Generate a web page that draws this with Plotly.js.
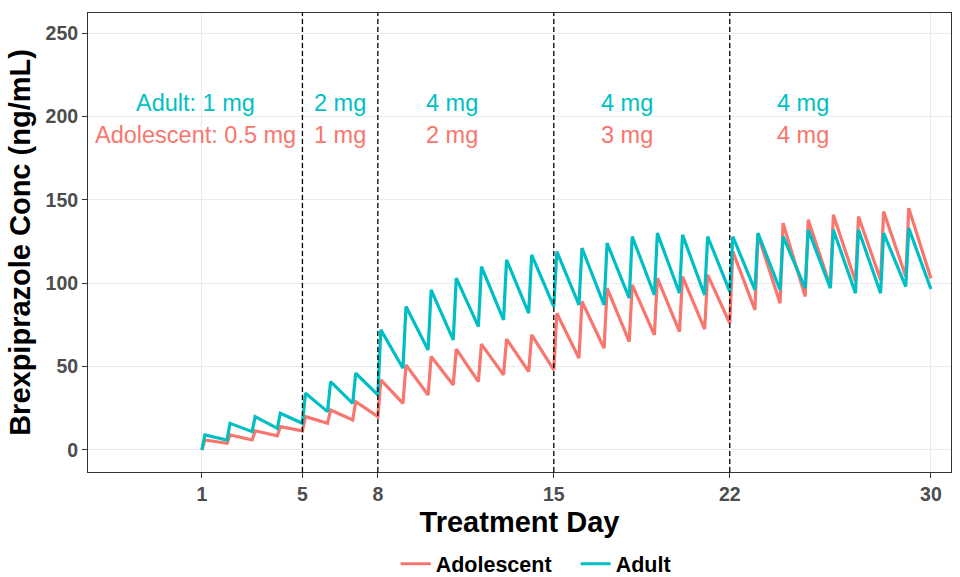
<!DOCTYPE html>
<html>
<head>
<meta charset="utf-8">
<script src="https://cdn.plot.ly/plotly-3.0.1.min.js"></script>
<style>html,body{margin:0;padding:0;background:#fff;}#chart{width:960px;height:577px;}</style>
</head>
<body>
<div id="chart"></div>
<script>
// Dose days (one dose per day) and day at the end of the profile
const doseDays = [1,2,3,4,5,6,7,8,9,10,11,12,13,14,15,16,17,18,19,20,21,22,23,24,25,26,27,28,29];
const endDay = 30;
const peakOffset = 0.12; // time after dose at which peak is reached (days)

// Concentrations (ng/mL)
// troughs: value at each dose time (day 1..29) plus at end (day 30)
const adultTrough = [0, 6, 11, 13, 16, 23, 28, 33, 49, 60, 66, 74, 78, 82, 86, 87, 87, 91, 93, 94, 93, 95, 96, 96, 97, 97, 94, 94, 98, 96.5];
const adultPeak   = [9, 16, 20, 22, 34, 41, 46, 72, 86, 96, 103, 110, 114, 117, 119, 121, 124, 128, 130, 129, 128, 128, 130, 128, 132, 132, 132, 130, 133];
const adolTrough  = [0, 4, 6, 8.5, 11.5, 16, 18, 20, 28, 33, 39, 41, 45, 47, 48, 55, 61, 65, 69, 71, 72.5, 76, 84, 88, 92, 98, 101, 102, 104, 103];
const adolPeak    = [6, 9, 11.5, 14, 20, 24, 29, 42, 51, 56, 60.5, 63.5, 66.5, 69, 82, 89, 97, 99, 103, 104, 105, 119, 129, 136, 138, 141, 140, 143, 145];

// Axis ticks and period boundaries
const xTicks = [1, 5, 8, 15, 22, 30];
const yTicks = [0, 50, 100, 150, 200, 250];
const periodStarts = [5, 8, 15, 22];

// Dose labels
const labelDays = [0.76, 6.5, 10.95, 17.9, 24.9];
const adultLabels = ["Adult: 1 mg", "2 mg", "4 mg", "4 mg", "4 mg"];
const adolLabels  = ["Adolescent: 0.5 mg", "1 mg", "2 mg", "3 mg", "4 mg"];
const adultLabelY = 208;
const adolLabelY = 189;

const colAdol = "#F8766D";
const colAdult = "#00BFC4";

function profile(trough, peak) {
  const x = [], y = [];
  doseDays.forEach((d, i) => {
    x.push(d); y.push(trough[i]);
    x.push(d + peakOffset); y.push(peak[i]);
  });
  x.push(endDay); y.push(trough[trough.length - 1]);
  return {x, y};
}

const pAdol = profile(adolTrough, adolPeak);
const pAdult = profile(adultTrough, adultPeak);

const FONT = "Liberation Sans, Arial, Helvetica, sans-serif";

const traces = [
  {x: pAdol.x, y: pAdol.y, type: "scatter", mode: "lines", name: "Adolescent",
   line: {color: colAdol, width: 3.2}, hoverinfo: "skip"},
  {x: pAdult.x, y: pAdult.y, type: "scatter", mode: "lines", name: "Adult",
   line: {color: colAdult, width: 3.2}, hoverinfo: "skip"}
];

const shapes = periodStarts.map(d => ({
  type: "line", xref: "x", yref: "paper", x0: d, x1: d, y0: 0, y1: 1,
  line: {color: "#000", width: 1.3, dash: "5px,3px"}
}));

const annotations = [];
labelDays.forEach((d, i) => {
  annotations.push({x: d, y: adultLabelY, xref: "x", yref: "y", text: adultLabels[i],
    showarrow: false, xanchor: "center", yanchor: "middle",
    font: {family: FONT, size: 23.5, color: colAdult}});
  annotations.push({x: d, y: adolLabelY, xref: "x", yref: "y", text: adolLabels[i],
    showarrow: false, xanchor: "center", yanchor: "middle",
    font: {family: FONT, size: 23.5, color: colAdol}});
});

const layout = {
  width: 960, height: 577,
  margin: {l: 88, r: 9, t: 13, b: 105, autoexpand: false},
  paper_bgcolor: "#fff", plot_bgcolor: "#fff",
  font: {family: FONT},
  showlegend: true,
  legend: {orientation: "h", x: 0.3565, xanchor: "left", y: -0.2, yanchor: "middle",
    font: {family: FONT, size: 21.5, color: "#000", weight: "bold"},
    itemwidth: 30, entrywidth: 135, entrywidthmode: "pixels",
    tracegroupgap: 0, bgcolor: "rgba(0,0,0,0)"},
  xaxis: {
    range: [-3.53, 30.8], tickmode: "array", tickvals: xTicks, ticktext: xTicks.map(String),
    showgrid: true, gridcolor: "#EBEBEB", gridwidth: 1, zeroline: false,
    showline: true, mirror: true, linecolor: "#333333", linewidth: 1,
    ticks: "outside", ticklen: 5, tickcolor: "#333333", automargin: false,
    tickfont: {family: FONT, size: 19.5, color: "#4D4D4D", weight: "bold"},
    title: {text: "Treatment Day", font: {family: FONT, size: 29, color: "#000", weight: "bold"}, standoff: 7}
  },
  yaxis: {
    range: [-13.2, 262], tickmode: "array", tickvals: yTicks, ticktext: yTicks.map(String),
    showgrid: true, gridcolor: "#EBEBEB", gridwidth: 1, zeroline: false,
    showline: true, mirror: true, linecolor: "#333333", linewidth: 1,
    ticks: "outside", ticklen: 5, tickcolor: "#333333", automargin: false,
    tickfont: {family: FONT, size: 19.5, color: "#4D4D4D", weight: "bold"},
    title: {text: "Brexpiprazole Conc (ng/mL)", font: {family: FONT, size: 29, color: "#000", weight: "bold"}, standoff: 6}
  },
  shapes: shapes,
  annotations: annotations,
  hovermode: false
};

Plotly.newPlot("chart", traces, layout, {displayModeBar: false, staticPlot: true});
</script>
</body>
</html>
